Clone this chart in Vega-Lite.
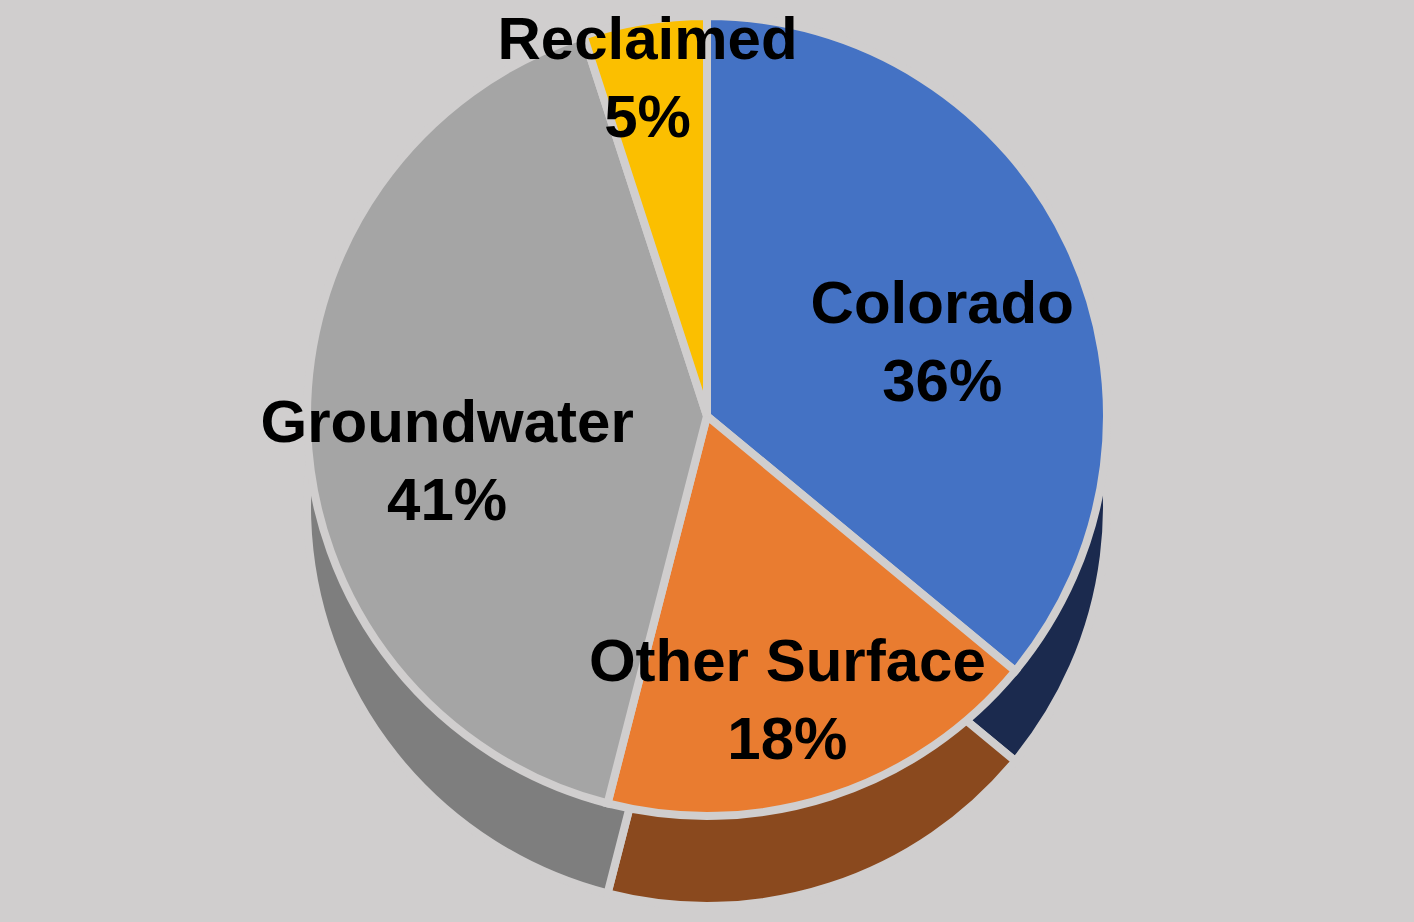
{
  "$schema": "https://vega.github.io/schema/vega-lite/v6.json",
  "width": 1414,
  "height": 922,
  "autosize": {"type": "fit", "contains": "padding"},
  "padding": 0,
  "background": "#D0CECE",
  "config": {"view": {"stroke": null}},
  "data": {
    "values": [
      {"source": "Colorado", "share": 36, "ord": 1, "label": "Colorado\n36%"},
      {"source": "Other Surface", "share": 18, "ord": 2, "label": "Other Surface\n18%"},
      {"source": "Groundwater", "share": 41, "ord": 3, "label": "Groundwater\n41%"},
      {"source": "Reclaimed", "share": 5, "ord": 4, "label": "Reclaimed\n5%"}
    ]
  },
  "encoding": {
    "theta": {"field": "share", "type": "quantitative", "stack": true},
    "order": {"field": "ord", "type": "quantitative"}
  },
  "layer": [
    {
      "mark": {"type": "arc", "outerRadius": 400, "yOffset": 45, "stroke": "#D0CECE", "strokeWidth": 8},
      "encoding": {
        "fill": {
          "field": "source", "type": "nominal", "legend": null,
          "scale": {"domain": ["Colorado", "Other Surface", "Groundwater", "Reclaimed"], "range": ["#1B2A4E", "#8A491E", "#7E7E7E", "#654D00"]}
        }
      }
    },
    {
      "mark": {"type": "arc", "outerRadius": 400, "yOffset": -45, "stroke": "#D0CECE", "strokeWidth": 8},
      "encoding": {
        "color": {
          "field": "source", "type": "nominal", "legend": null,
          "scale": {"domain": ["Colorado", "Other Surface", "Groundwater", "Reclaimed"], "range": ["#4472C4", "#E97C30", "#A5A5A5", "#FBBF00"]}
        }
      }
    },
    {
      "mark": {"type": "text", "radius": 260, "yOffset": -45, "font": "Liberation Sans", "fontWeight": "bold", "fontSize": 60, "lineBreak": "\n", "lineHeight": 78, "color": "#000000"},
      "encoding": {
        "text": {"condition": {"test": "datum.source !== 'Reclaimed'", "field": "label"}, "value": ""}
      }
    },
    {
      "mark": {"type": "text", "radius": 380, "yOffset": -45, "font": "Liberation Sans", "fontWeight": "bold", "fontSize": 60, "lineBreak": "\n", "lineHeight": 78, "color": "#000000"},
      "encoding": {
        "text": {"condition": {"test": "datum.source === 'Reclaimed'", "field": "label"}, "value": ""}
      }
    }
  ],
  "resolve": {"scale": {"color": "independent", "fill": "independent"}}
}
